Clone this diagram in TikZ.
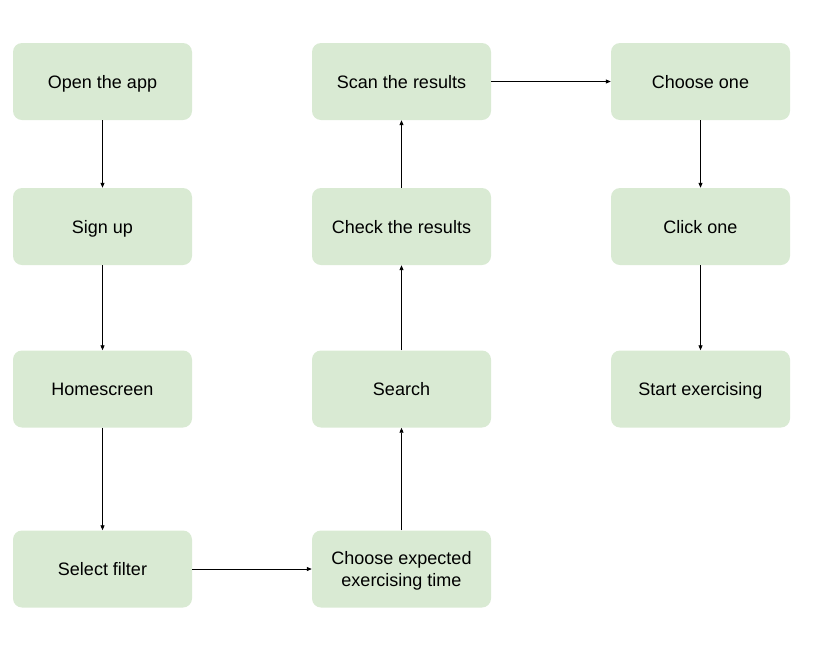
\documentclass[tikz,border=0pt]{standalone}
\usepackage{fontspec}
\setmainfont{Liberation Sans}
\usetikzlibrary{arrows.meta}
\definecolor{boxgreen}{HTML}{D9EAD3}
\tikzset{
  stepbox/.style={fill=boxgreen, draw=none, rounded corners=9pt, minimum width=179pt, minimum height=77pt, inner sep=0pt, align=center, font=\fontsize{18pt}{22pt}\selectfont, text=black},
  onebox/.style={stepbox, text height=13pt, text depth=0pt},
  twobox/.style={stepbox, text height=35pt, text depth=0pt},
  conn/.style={-{Triangle[length=5pt,width=4pt]}, line width=0.8pt, black}
}
\begin{document}
\begin{tikzpicture}[x=1pt,y=-1pt]
\useasboundingbox (0,0) rectangle (813,646);
\node[onebox] (open) at (102.5,81.5) {Open the app};
\node[onebox] (sign) at (102.5,226.5) {Sign up};
\node[onebox] (home) at (102.5,389) {Homescreen};
\node[onebox] (filter) at (102.5,569) {Select filter};
\node[twobox] (time) at (401.5,569) {Choose expected\\exercising time};
\node[onebox] (search) at (401.5,389) {Search};
\node[onebox] (check) at (401.5,226.5) {Check the results};
\node[onebox] (scan) at (401.5,81.5) {Scan the results};
\node[onebox] (choose) at (700.5,81.5) {Choose one};
\node[onebox] (click) at (700.5,226.5) {Click one};
\node[onebox] (start) at (700.5,389) {Start exercising};
\draw[conn] (open) -- (sign);
\draw[conn] (sign) -- (home);
\draw[conn] (home) -- (filter);
\draw[conn] (filter) -- (time);
\draw[conn] (time) -- (search);
\draw[conn] (search) -- (check);
\draw[conn] (check) -- (scan);
\draw[conn] (scan) -- (choose);
\draw[conn] (choose) -- (click);
\draw[conn] (click) -- (start);
\end{tikzpicture}
\end{document}
